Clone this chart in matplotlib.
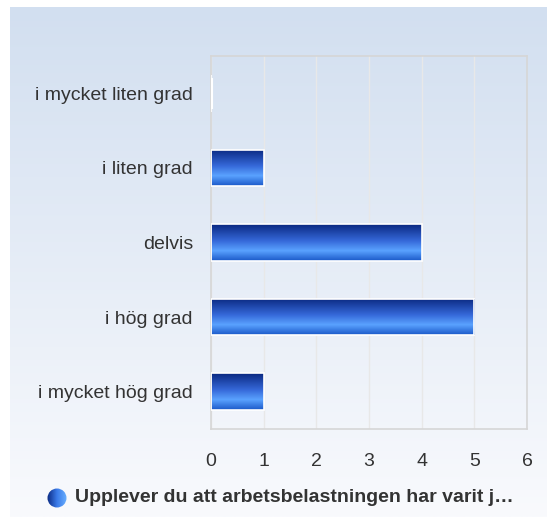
import numpy as np
import matplotlib.pyplot as plt
from matplotlib.colors import LinearSegmentedColormap

categories = ["i mycket liten grad", "i liten grad", "delvis", "i hög grad", "i mycket hög grad"]
values = [0, 1, 4, 5, 1]
xticks = [0, 1, 2, 3, 4, 5, 6]
legend_label = "Upplever du att arbetsbelastningen har varit j\u2026"

plt.rcParams["font.family"] = ["Liberation Sans", "DejaVu Sans"]

W, H = 547, 517
fig = plt.figure(figsize=(W / 100, H / 100), dpi=100)

# background gradient box
bg = fig.add_axes([10 / W, 0, 1 - 10 / W, 1 - 7 / H])
bg_cmap = LinearSegmentedColormap.from_list("bg", ["#d2dff0", "#f9fafd"])
bg.imshow(np.linspace(0, 1, 256).reshape(-1, 1), aspect="auto", cmap=bg_cmap,
          extent=(0, 1, 0, 1), origin="upper")
bg.set_axis_off()

left, right, top, bottom = 211, 527, 56, 429
ax = fig.add_axes([left / W, 1 - bottom / H, (right - left) / W, (bottom - top) / H])
ax.patch.set_alpha(0)

ypos = np.arange(len(categories))
bar_h = 0.49
bars = ax.barh(ypos, values, height=bar_h, color="none", edgecolor="white", linewidth=1.2, zorder=3)

bar_cmap = LinearSegmentedColormap.from_list(
    "bar", [(0, "#0a2880"), (0.45, "#3568d8"), (0.72, "#5aa2ff"), (1, "#1a58c8")])
grad = np.linspace(0, 1, 256).reshape(-1, 1)
for rect, v, y in zip(bars, values, ypos):
    if v == 0:
        ax.plot([0.01, 0.01], [y - bar_h * 0.4, y + bar_h * 0.4], color="#ffffff", lw=1.5, zorder=3)
        continue
    im = ax.imshow(grad, aspect="auto", cmap=bar_cmap, origin="upper",
                   extent=(0, v, y + bar_h / 2, y - bar_h / 2), zorder=2)
    im.set_clip_path(rect)

ax.set_xlim(0, 6)
ax.set_ylim(len(categories) - 0.5, -0.5)
ax.set_xticks(xticks)
ax.set_xticklabels([str(t) for t in xticks])
ax.set_yticks(ypos)
ax.set_yticklabels(categories)
ax.tick_params(axis="both", length=0, labelsize=14, colors="#333333")
ax.tick_params(axis="x", pad=17)
ax.tick_params(axis="y", pad=13)
ax.grid(axis="x", color="#e8e8e8", linewidth=1, zorder=1)
ax.set_axisbelow(True)
for s in ax.spines.values():
    s.set_color("#d6d6d6")
    s.set_linewidth(1.2)

# legend marker and label
lg = fig.add_axes([47 / W, 1 - 508 / H, 20 / W, 20 / H])
lg.set_xlim(-1, 1)
lg.set_ylim(-1, 1)
lg.set_axis_off()
leg_cmap = LinearSegmentedColormap.from_list("leg", ["#0a2880", "#3a7ae8", "#6ab0ff"])
circ = plt.Circle((0, 0), 0.95, transform=lg.transData, facecolor="none", edgecolor="none")
lg.add_patch(circ)
li = lg.imshow(np.linspace(0, 1, 256).reshape(1, -1), cmap=leg_cmap, extent=(-1, 1, -1, 1), aspect="auto")
li.set_clip_path(circ)
fig.text(75 / W, 1 - 498 / H, legend_label, fontsize=14, fontweight="bold",
         color="#333333", va="center", ha="left")

fig.savefig("out.png", dpi=100)
